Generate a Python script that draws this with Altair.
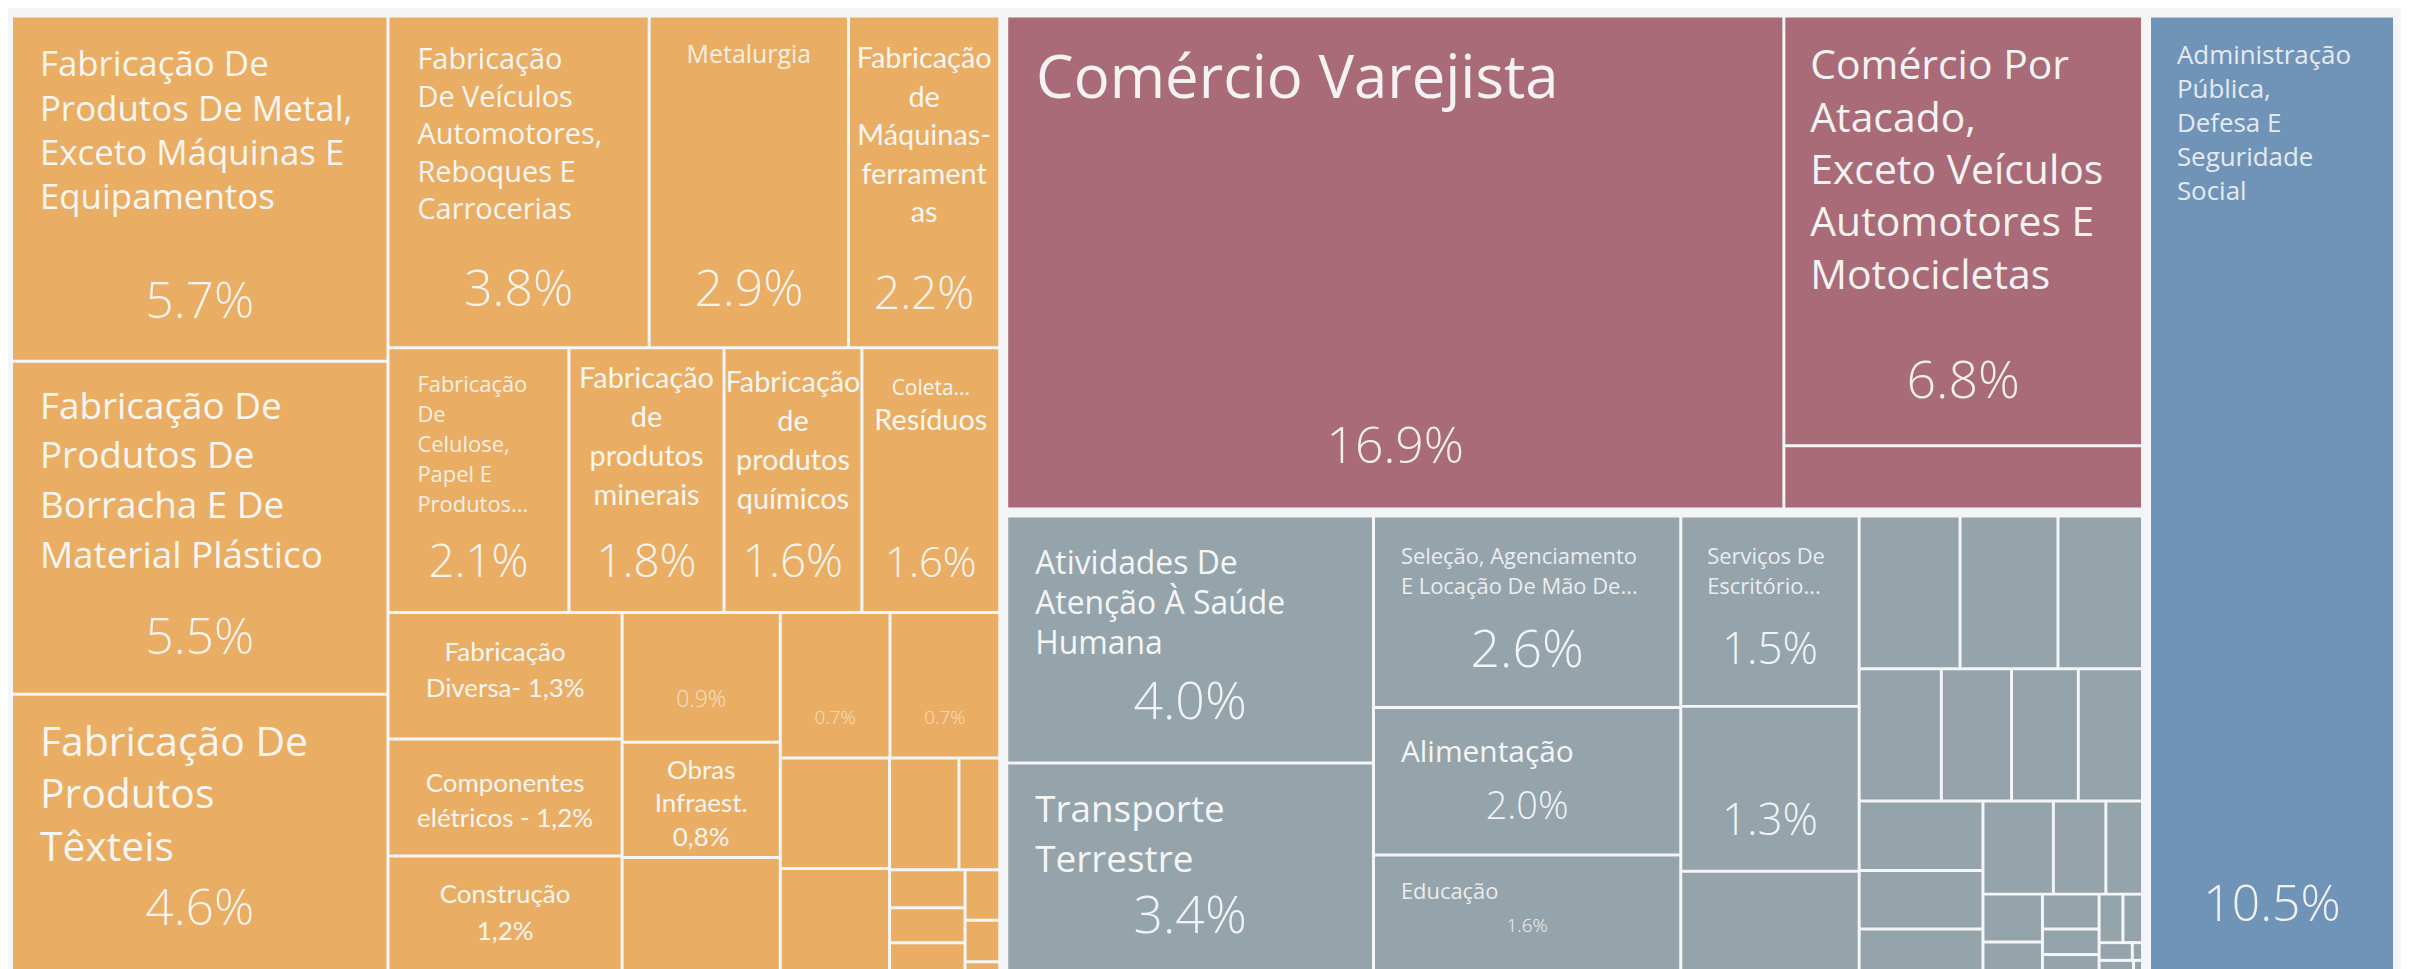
import altair as alt
import pandas as pd

# ------------------------------------------------------------------ data
sectors = ["Indústria", "Comércio", "Serviços", "Administração Pública"]

ind_labels = [
    "Fabricação De|Produtos De Metal,|Exceto Máquinas E|Equipamentos",
    "Fabricação De|Produtos De|Borracha E De|Material Plástico",
    "Fabricação De|Produtos|Têxteis",
    "Fabricação|De Veículos|Automotores,|Reboques E|Carrocerias",
    "Metalurgia",
    "Fabricação|de|Máquinas-|ferrament|as",
    "Fabricação|De|Celulose,|Papel E|Produtos...",
    "Fabricação|de|produtos|minerais",
    "Fabricação|de|produtos|químicos",
    "Coleta...|Resíduos",
    "Fabricação|Diversa- 1,3%",
    "Componentes|elétricos - 1,2%",
    "Construção|1,2%",
    "",
    "Obras|Infraest.|0,8%",
    "", "", "", "", "", "", "", "", "", "", "", "", "",
]
ind_values = [5.7, 5.5, 4.6, 3.8, 2.9, 2.2, 2.1, 1.8, 1.6, 1.6, 1.3, 1.2, 1.2,
              0.9, 0.8, 0.8, 0.7, 0.7, 0.53, 0.5, 0.34, 0.2, 0.126, 0.116, 0.1,
              0.077, 0.063, 0.017]

com_labels = [
    "Comércio Varejista",
    "Comércio Por|Atacado,|Exceto Veículos|Automotores E|Motocicletas",
    "",
]
com_values = [16.9, 6.8, 1.0]

serv_labels = [
    "Atividades De|Atenção À Saúde|Humana",
    "Transporte|Terrestre",
    "Seleção, Agenciamento|E Locação De Mão De...",
    "Alimentação",
    "Educação",
    "Serviços De|Escritório...",
] + [""] * 26
serv_values = [4.0, 3.4, 2.6, 2.0, 1.6, 1.5, 1.3, 0.8,
               0.68, 0.66, 0.57,
               0.48, 0.41, 0.39, 0.375,
               0.38, 0.32, 0.24,
               0.29, 0.216, 0.151,
               0.126, 0.081,
               0.087, 0.064, 0.046,
               0.051, 0.042, 0.026, 0.008, 0.019, 0.005]

pub_labels = ["Administração|Pública,|Defesa E|Seguridade|Social"]
pub_values = [10.5]

labels = {"ind": ind_labels, "com": com_labels, "serv": serv_labels, "pub": pub_labels}
values = {"ind": ind_values, "com": com_values, "serv": serv_values, "pub": pub_values}
sector_of = {"ind": sectors[0], "com": sectors[1], "serv": sectors[2], "pub": sectors[3]}

# ------------------------------------------------------------------ nesting (split order only)
trees = {
    "ind": ("h", [
        ("v", [0, 1, 2]),
        ("v", [
            ("h", [3, 4, 5]),
            ("h", [6, 7, 8, 9]),
            ("h", [
                ("v", [10, 11, 12]),
                ("v", [13, 14, 15]),
                ("v", [
                    ("h", [16, 17]),
                    ("h", [
                        ("v", [18, 19]),
                        ("v", [
                            ("h", [20, 21]),
                            ("h", [("v", [22, 23, 24]), ("v", [25, 26, 27])]),
                        ]),
                    ]),
                ]),
            ]),
        ]),
    ]),
    "com": ("h", [0, ("v", [1, 2])]),
    "serv": ("h", [
        ("v", [0, 1]),
        ("v", [2, 3, 4]),
        ("v", [5, 6, 7]),
        ("v", [
            ("h", [8, 9, 10]),
            ("h", [11, 12, 13, 14]),
            ("h", [
                ("v", [15, 16, 17]),
                ("v", [
                    ("h", [18, 19, 20]),
                    ("h", [("v", [21, 22]), ("v", [23, 24, 25]),
                           ("v", [("h", [26, 27]), ("h", [28, 29]), ("h", [30, 31])])]),
                ]),
            ]),
        ]),
    ]),
    "pub": 0,
}
top_tree = ("h", ["ind", ("v", ["com", "serv"]), "pub"])


def wsum(node, val):
    if isinstance(node, tuple):
        return sum(wsum(c, val) for c in node[1])
    return val(node)


def place(node, r, val, out):
    if not isinstance(node, tuple):
        out[node] = r
        return
    d, kids = node
    x0, y0, x1, y1 = r
    tot = sum(wsum(k, val) for k in kids)
    p = x0 if d == "h" else y0
    span = (x1 - x0) if d == "h" else (y1 - y0)
    for k in kids:
        s = wsum(k, val) / tot * span
        sub = (p, y0, p + s, y1) if d == "h" else (x0, p, x1, p + s)
        place(k, sub, val, out)
        p += s


# ------------------------------------------------------------------ geometry (computed from values)
W, H = 2401, 961
frame = (0, 3, 2398, 970)
GROUP_PAD, CELL_PAD = 3.5, 1.5

group_rects = {}
place(top_tree, frame, lambda g: sum(values[g]), group_rects)

leaf_rects = {}
cell_rows = []
for g, gr in group_rects.items():
    inner = (gr[0] + GROUP_PAD, gr[1] + GROUP_PAD, gr[2] - GROUP_PAD, gr[3] - GROUP_PAD)
    out = {}
    place(trees[g], inner, lambda i, g=g: values[g][i], out)
    for i, r in out.items():
        rr = (r[0] + CELL_PAD, r[1] + CELL_PAD, r[2] - CELL_PAD, r[3] - CELL_PAD)
        leaf_rects[(g, i)] = rr
        cell_rows.append(dict(x0=rr[0], y0=rr[1], x1=rr[2], y1=rr[3],
                              sector=sector_of[g], value=values[g][i]))
cells = pd.DataFrame(cell_rows)

# ------------------------------------------------------------------ label styles
OS, LA = "Open Sans", "Lato"
styles = {
    ("ind", 0): dict(font=OS, size=35, align="left", dx=27, dy=59, lh=44.5, vsize=50, vy=301),
    ("ind", 1): dict(font=OS, size=37, align="left", dx=27, dy=56, lh=50, vsize=50, vy=292),
    ("ind", 2): dict(font=OS, size=41, align="left", dx=27, dy=60, lh=53, vsize=50, vy=230),
    ("ind", 3): dict(font=OS, size=29, align="left", dx=28, dy=52, lh=37.5, vsize=50, vy=289),
    ("ind", 4): dict(font=OS, size=25, align="center", dy=46, vsize=50, vy=289, op=0.85),
    ("ind", 5): dict(font=LA, size=29, align="center", dy=51, lh=38.5, vsize=46, vy=292),
    ("ind", 6): dict(font=OS, size=22, align="left", dx=28, dy=43, lh=30, vsize=46, vy=228, op=0.85),
    ("ind", 7): dict(font=LA, size=29, align="center", dy=39, lh=39, vsize=46, vy=228),
    ("ind", 8): dict(font=LA, size=29, align="center", dy=43, lh=39, vsize=46, vy=228),
    ("ind", 9): dict(font=LA, size=29, align="center", dys=[46, 81], sizes=[21, 29],
                     fonts=[OS, LA], vsize=42, vy=228),
    ("ind", 10): dict(font=LA, size=26, align="center", dy=47, lh=36),
    ("ind", 11): dict(font=LA, size=26, align="center", dy=52, lh=35),
    ("ind", 12): dict(font=LA, size=26, align="center", dy=46, lh=37),
    ("ind", 13): dict(vsize=23, vy=93, vop=0.65),
    ("ind", 14): dict(font=LA, size=26, align="center", dy=35, lh=34),
    ("ind", 16): dict(vsize=19, vy=110, vop=0.65),
    ("ind", 17): dict(vsize=19, vy=110, vop=0.65),
    ("com", 0): dict(font=OS, size=60, align="left", dx=28, dy=81, vsize=50, vy=447),
    ("com", 1): dict(font=OS, size=41, align="left", dx=25, dy=62, lh=52.5, vsize=52, vy=382),
    ("serv", 0): dict(font=OS, size=32, align="left", dx=27, dy=57, lh=40, vsize=52, vy=202),
    ("serv", 1): dict(font=OS, size=37, align="left", dx=27, dy=58, lh=50, vsize=52, vy=169),
    ("serv", 2): dict(font=OS, size=22, align="left", dx=26, dy=47, lh=30, vsize=52, vy=150, op=0.85),
    ("serv", 3): dict(font=OS, size=30, align="left", dx=26, dy=53, vsize=38, vy=110),
    ("serv", 4): dict(font=OS, size=22, align="left", dx=26, dy=43, vsize=19, vy=76, op=0.85),
    ("serv", 5): dict(font=OS, size=22, align="left", dx=25, dy=47, lh=30, vsize=44, vy=147, op=0.85),
    ("serv", 6): dict(vsize=44, vy=128),
    ("pub", 0): dict(font=OS, size=26, align="left", dx=26, dy=47, lh=34, vsize=50, vy=906, op=0.85),
}

text_rows = []
for key, st in styles.items():
    g, i = key
    name, val = labels[g][i], values[g][i]
    x0, y0, x1, y1 = leaf_rects[key]
    cx = (x0 + x1) / 2
    if name:
        lines = name.split("|")
        n = len(lines)
        sizes = st["sizes"] if "sizes" in st else [st["size"]] * n
        if "dys" in st:
            dys = st["dys"]
        else:
            dys = [st["dy"] + k * st.get("lh", 0) for k in range(n)]
        fonts = st["fonts"] if "fonts" in st else [st["font"]] * n
        for k, line in enumerate(lines):
            text_rows.append(dict(
                x=x0 + st["dx"] if st["align"] == "left" else cx,
                y=y0 + dys[k], text=line, size=sizes[k],
                layer=f'{st["align"]}|{fonts[k]}', op=st.get("op", 0.95)))
    if st.get("vsize"):
        text_rows.append(dict(x=cx, y=y0 + st["vy"], text=f"{val:.1f}%",
                              size=st["vsize"], layer="value", op=st.get("vop", 0.93)))
texts = pd.DataFrame(text_rows)

# ------------------------------------------------------------------ chart
xs = alt.Scale(domain=[0, W], range=[0, W], nice=False, zero=False)
ys = alt.Scale(domain=[0, H], range=[0, H], nice=False, zero=False)
sector_colors = ["#E9AE64", "#A86B77", "#95A4AB", "#7094B8"]

rects = alt.Chart(cells).mark_rect().encode(
    x=alt.X("x0:Q", scale=xs, axis=None),
    x2="x1:Q",
    y=alt.Y("y0:Q", scale=ys, axis=None),
    y2="y1:Q",
    color=alt.Color("sector:N", scale=alt.Scale(domain=sectors, range=sector_colors), legend=None),
)

layers = [rects]
for layer_key, align, font, weight in [
    (f"left|{OS}", "left", OS, 400),
    (f"center|{OS}", "center", OS, 400),
    (f"center|{LA}", "center", LA, 400),
    ("value", "center", OS, 300),
]:
    sub = texts[texts["layer"] == layer_key]
    if sub.empty:
        continue
    layers.append(
        alt.Chart(sub).mark_text(align=align, baseline="alphabetic", font=font,
                                 fontWeight=weight, color="#FAFAFA").encode(
            x=alt.X("x:Q", scale=xs, axis=None),
            y=alt.Y("y:Q", scale=ys, axis=None),
            text="text:N",
            size=alt.Size("size:Q", scale=None),
            opacity=alt.Opacity("op:Q", scale=None),
        )
    )

chart = alt.layer(*layers).properties(
    width=W, height=H,
    autosize=alt.AutoSizeParams(type="none"),
    padding={"left": 0, "top": 0, "right": 0, "bottom": 0},
    background="#F4F5F7",
).configure_view(stroke=None)

chart.save("out.html", embed_options={"renderer": "svg", "actions": False})
